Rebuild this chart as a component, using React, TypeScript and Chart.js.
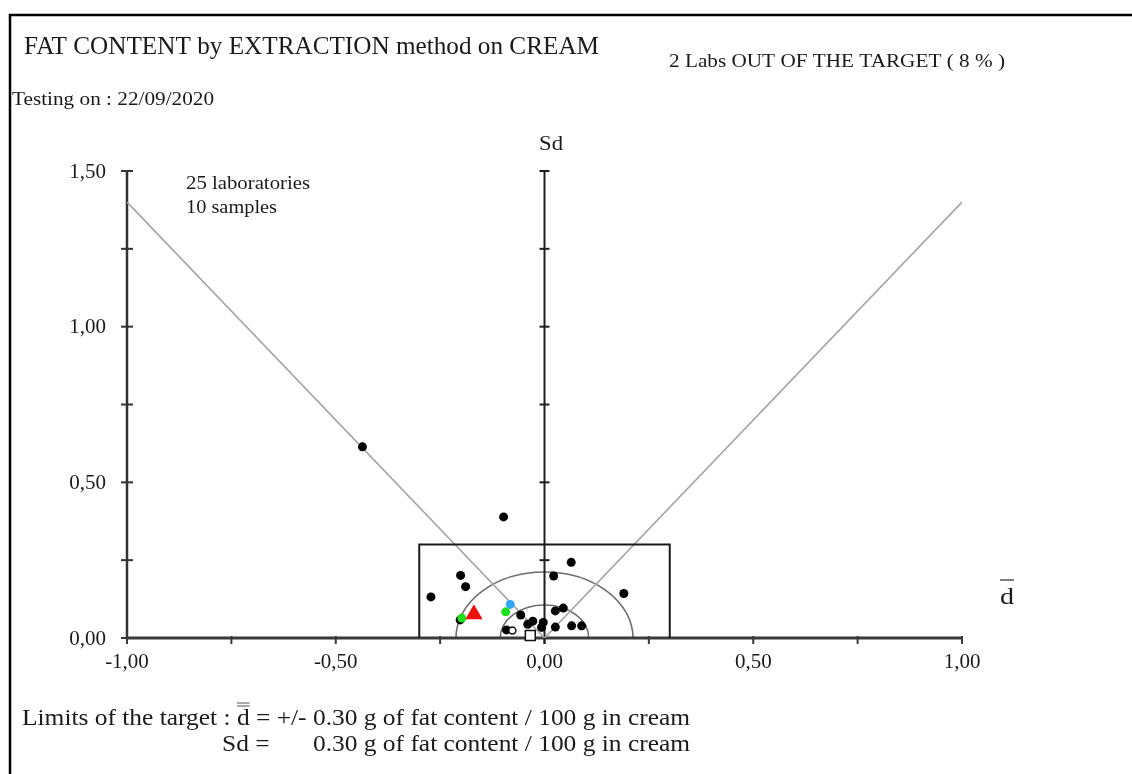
import React, { useEffect, useRef } from "react";
import { Chart, registerables } from "chart.js";

Chart.register(...registerables);

// ---- data ----
const blackD = [-0.436, -0.098, 0.064, 0.022, 0.19, -0.272, -0.201, -0.189, -0.202, -0.057, -0.091, -0.04, -0.028, -0.003, -0.007, 0.026, 0.045, 0.026, 0.065, 0.089];
const blackSd = [0.614, 0.389, 0.243, 0.199, 0.143, 0.132, 0.201, 0.165, 0.058, 0.074, 0.026, 0.044, 0.054, 0.05, 0.034, 0.087, 0.096, 0.035, 0.039, 0.039];
const greenD = [-0.198, -0.093];
const greenSd = [0.064, 0.084];
const blueD = [-0.082];
const blueSd = [0.108];
const redD = [-0.169];
const redSd = [0.076];
const squareD = [-0.034];
const squareSd = [0.008];
const openD = [-0.077];
const openSd = [0.024];

const targetLimit = 0.3;
const slopeLineD = [-1, 0, 1];
const slopeLineSd = [1.4, 0, 1.4];
const circleRadii = [0.106, 0.212];

const xTicks = [-1, -0.75, -0.5, -0.25, 0, 0.25, 0.5, 0.75, 1];
const xLabelValues = [-1, -0.5, 0, 0.5, 1];
const xLabels = ["-1,00", "-0,50", "0,00", "0,50", "1,00"];
const yTicks = [0, 0.25, 0.5, 0.75, 1, 1.25, 1.5];
const yLabelValues = [0, 0.5, 1, 1.5];
const yLabels = ["0,00", "0,50", "1,00", "1,50"];

const title = "FAT CONTENT by EXTRACTION method on CREAM";
const outText = "2 Labs OUT OF THE TARGET ( 8 % )";
const dateText = "Testing on : 22/09/2020";
const labsText = "25 laboratories";
const samplesText = "10 samples";
const limitPrefix = "Limits of the target : ";
const limitLine1Rest = " = +/- 0.30 g of fat content / 100 g in cream";
const limitLine2Label = "Sd =";
const limitLine2Rest = "0.30 g of fat content / 100 g in cream";

const FONT = "'Liberation Serif', 'Times New Roman', serif";
const TXT = "#1a1a1a";

function pts(xs: number[], ys: number[]) {
  return xs.map((x, i) => ({ x, y: ys[i] }));
}

function fitText(ctx: CanvasRenderingContext2D, text: string, x: number, y: number, width: number, size: number) {
  ctx.font = `${size}px ${FONT}`;
  const w = ctx.measureText(text).width;
  const s = width / w;
  ctx.save();
  ctx.translate(x, y);
  ctx.scale(s, 1);
  ctx.textAlign = "left";
  ctx.textBaseline = "alphabetic";
  ctx.fillText(text, 0, 0);
  ctx.restore();
  return s;
}

const decorPlugin = {
  id: "decor",
  beforeDatasetsDraw(chart: any) {
    const ctx: CanvasRenderingContext2D = chart.ctx;
    const xs = chart.scales.x;
    const ys = chart.scales.y;
    const x0 = xs.getPixelForValue(0);
    const y0 = ys.getPixelForValue(0);
    ctx.save();
    // circles
    ctx.strokeStyle = "#6e6e6e";
    ctx.lineWidth = 1.6;
    circleRadii.forEach((r) => {
      const rx = xs.getPixelForValue(r) - x0;
      const ry = y0 - ys.getPixelForValue(r);
      ctx.beginPath();
      ctx.ellipse(x0, y0, rx, ry, 0, Math.PI, 2 * Math.PI);
      ctx.stroke();
    });
    // left axis
    const xl = xs.getPixelForValue(-1);
    const yTop = ys.getPixelForValue(1.5);
    ctx.strokeStyle = "#333";
    ctx.lineWidth = 2.5;
    ctx.beginPath();
    ctx.moveTo(xl, y0);
    ctx.lineTo(xl, yTop);
    ctx.stroke();
    ctx.lineWidth = 2;
    yTicks.forEach((v) => {
      const y = ys.getPixelForValue(v);
      ctx.beginPath();
      ctx.moveTo(xl - 6, y);
      ctx.lineTo(xl + 6, y);
      ctx.stroke();
    });
    // bottom axis
    const xr = xs.getPixelForValue(1);
    ctx.lineWidth = 3;
    ctx.strokeStyle = "#3a3a3a";
    ctx.beginPath();
    ctx.moveTo(xl, y0);
    ctx.lineTo(xr, y0);
    ctx.stroke();
    ctx.lineWidth = 2;
    xTicks.forEach((v) => {
      const x = xs.getPixelForValue(v);
      ctx.beginPath();
      ctx.moveTo(x, y0 - 2);
      ctx.lineTo(x, y0 + 6);
      ctx.stroke();
    });
    // center Sd axis
    ctx.strokeStyle = "#1e1e1e";
    ctx.lineWidth = 2;
    ctx.beginPath();
    ctx.moveTo(x0, y0 + 6);
    ctx.lineTo(x0, yTop);
    ctx.stroke();
    yTicks.forEach((v) => {
      if (v === 0) return;
      const y = ys.getPixelForValue(v);
      ctx.beginPath();
      ctx.moveTo(x0 - 5, y);
      ctx.lineTo(x0 + 5, y);
      ctx.stroke();
    });
    ctx.restore();
  },
  afterDraw(chart: any) {
    const ctx: CanvasRenderingContext2D = chart.ctx;
    const xs = chart.scales.x;
    const ys = chart.scales.y;
    ctx.save();
    // frame
    ctx.strokeStyle = "#000";
    ctx.lineWidth = 2.5;
    ctx.beginPath();
    ctx.moveTo(10, 774);
    ctx.lineTo(10, 15);
    ctx.lineTo(1132, 15);
    ctx.stroke();

    ctx.fillStyle = TXT;
    fitText(ctx, title, 24, 54, 575, 26);
    fitText(ctx, outText, 669, 67, 336, 18);
    fitText(ctx, dateText, 12, 105, 202, 19);
    fitText(ctx, labsText, 186, 189, 124, 18);
    fitText(ctx, samplesText, 186, 213, 91, 18);
    fitText(ctx, "Sd", 539, 150, 24, 20);

    // d-bar label
    fitText(ctx, "d", 1000, 604, 14, 23);
    ctx.strokeStyle = "#555";
    ctx.lineWidth = 1.5;
    ctx.beginPath();
    ctx.moveTo(1000, 580);
    ctx.lineTo(1014, 580);
    ctx.stroke();

    // tick labels
    ctx.font = `21px ${FONT}`;
    ctx.textBaseline = "middle";
    ctx.textAlign = "right";
    yLabelValues.forEach((v, i) => {
      ctx.fillText(yLabels[i], 106, ys.getPixelForValue(v) + 1);
    });
    ctx.textAlign = "center";
    ctx.textBaseline = "alphabetic";
    xLabelValues.forEach((v, i) => {
      ctx.fillText(xLabels[i], xs.getPixelForValue(v), 668);
    });

    // bottom lines
    const full = limitPrefix + "d" + limitLine1Rest;
    const s = fitText(ctx, full, 22, 725, 668, 24);
    ctx.font = `24px ${FONT}`;
    const dx = 22 + ctx.measureText(limitPrefix).width * s;
    const dw = ctx.measureText("d").width * s;
    ctx.strokeStyle = "#555";
    ctx.lineWidth = 1.2;
    ctx.beginPath();
    ctx.moveTo(dx, 703);
    ctx.lineTo(dx + dw, 703);
    ctx.moveTo(dx, 706);
    ctx.lineTo(dx + dw, 706);
    ctx.stroke();
    const lw = ctx.measureText(limitLine2Label).width * s;
    fitText(ctx, limitLine2Label, 222, 751, lw, 24);
    const rw = ctx.measureText(limitLine2Rest).width * s;
    fitText(ctx, limitLine2Rest, 690 - rw, 751, rw, 24);
    ctx.restore();
  },
};

export default function App() {
  const ref = useRef<HTMLCanvasElement | null>(null);
  useEffect(() => {
    if (!ref.current) return;
    const chart = new Chart(ref.current, {
      type: "scatter",
      data: {
        datasets: [
          {
            label: "red",
            data: pts(redD, redSd),
            pointStyle: "triangle",
            pointRadius: 10,
            backgroundColor: "#ee1111",
            borderColor: "#ee1111",
            borderWidth: 0,
            order: 0,
            clip: false,
          } as any,
          {
            label: "green",
            data: pts(greenD, greenSd),
            pointRadius: 4.5,
            backgroundColor: "#1fe01f",
            borderWidth: 0,
            order: 1,
            clip: false,
          },
          {
            label: "blue",
            data: pts(blueD, blueSd),
            pointRadius: 4.5,
            backgroundColor: "#2fa8f5",
            borderWidth: 0,
            order: 1,
            clip: false,
          },
          {
            label: "square",
            data: pts(squareD, squareSd),
            pointStyle: "rect",
            pointRadius: 7,
            backgroundColor: "#ffffff",
            borderColor: "#111",
            borderWidth: 1.5,
            order: 2,
            clip: false,
          },
          {
            label: "open",
            data: pts(openD, openSd),
            pointRadius: 3.5,
            backgroundColor: "#ffffff",
            borderColor: "#111",
            borderWidth: 1.5,
            order: 2,
            clip: false,
          },
          {
            label: "labs",
            data: pts(blackD, blackSd),
            pointRadius: 4.5,
            backgroundColor: "#000",
            borderWidth: 0,
            order: 3,
            clip: false,
          },
          {
            label: "target",
            type: "line",
            data: pts(
              [-targetLimit, -targetLimit, targetLimit, targetLimit],
              [0, targetLimit, targetLimit, 0]
            ),
            borderColor: "#1a1a1a",
            borderWidth: 2,
            pointRadius: 0,
            fill: false,
            tension: 0,
            order: 4,
            clip: false,
          } as any,
          {
            label: "slopes",
            type: "line",
            data: pts(slopeLineD, slopeLineSd),
            borderColor: "#a3a3a3",
            borderWidth: 1.6,
            pointRadius: 0,
            fill: false,
            tension: 0,
            order: 5,
          } as any,
        ],
      },
      options: {
        animation: false,
        responsive: false,
        devicePixelRatio: 1,
        layout: { padding: { left: 127, right: 170, top: 171, bottom: 136 } },
        scales: {
          x: { type: "linear", min: -1, max: 1, display: false },
          y: { type: "linear", min: 0, max: 1.5, display: false },
        },
        plugins: {
          legend: { display: false },
          tooltip: { enabled: false },
          title: { display: false },
        },
      },
      plugins: [decorPlugin],
    });
    return () => chart.destroy();
  }, []);
  return (
    <div style={{ position: "fixed", left: 0, top: 0, width: 1132, height: 774, background: "#fff" }}>
      <canvas ref={ref} width={1132} height={774} style={{ display: "block" }} />
    </div>
  );
}
